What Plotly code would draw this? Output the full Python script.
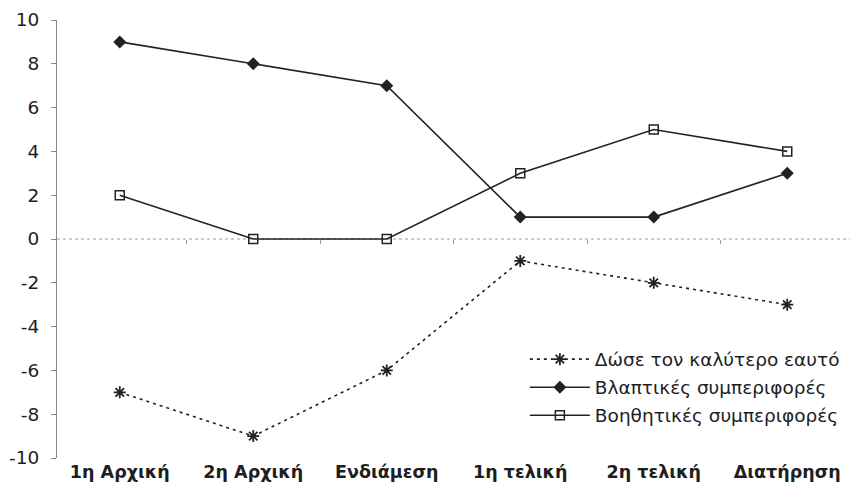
import plotly.graph_objects as go

# Measurement phases and scores
phases = ["1η Αρχική", "2η Αρχική", "Ενδιάμεση", "1η τελική", "2η τελική", "Διατήρηση"]
best_self = [-7, -9, -6, -1, -2, -3]
harmful = [9, 8, 7, 1, 1, 3]
helpful = [2, 0, 0, 3, 5, 4]

y_ticks = [10, 8, 6, 4, 2, 0, -2, -4, -6, -8, -10]
y_labels = ["10", "8", "6", "4", "2", "0", "-2", "-4", "-6", "-8", "-10"]
boundaries = [0.5, 1.5, 2.5, 3.5, 4.5]

ink = "#222222"
x_range = [-0.47, 5.47]
text_font = "DejaVu Sans, Liberation Sans, Arial, sans-serif"

fig = go.Figure()
fig.add_trace(go.Scatter(
    x=phases, y=best_self, name="Δώσε τον καλύτερο εαυτό", legendgroup="a",
    mode="lines+markers",
    line=dict(color=ink, width=1.6, dash="3px,4px"),
    marker=dict(symbol="asterisk-open", size=10, color=ink, line=dict(width=1.8, color=ink)),
))
fig.add_trace(go.Scatter(
    x=phases, y=harmful, name="Βλαπτικές συμπεριφορές", legendgroup="b",
    mode="lines+markers",
    line=dict(color=ink, width=1.6),
    marker=dict(symbol="diamond", size=10, color=ink),
))
fig.add_trace(go.Scatter(
    x=phases, y=helpful, name="Βοηθητικές συμπεριφορές", legendgroup="c",
    mode="lines+markers",
    line=dict(color=ink, width=1.6),
    marker=dict(symbol="square-open", size=9, color=ink, line=dict(width=1.5, color=ink)),
))

# Dotted zero line across the plot
fig.add_shape(type="line", xref="paper", x0=0, x1=1, yref="y", y0=0, y1=0,
              line=dict(color="#9a9a9a", width=1, dash="dot"), layer="below")

fig.update_layout(
    width=850, height=500,
    margin=dict(l=57, r=0, t=20, b=42),
    paper_bgcolor="white", plot_bgcolor="white",
    font=dict(family=text_font, color="#1e1e1e"),
    showlegend=True,
    legend=dict(
        x=0.59, y=0.268, xanchor="left", yanchor="top",
        font=dict(size=18.5, color="#1e1e1e"),
        bgcolor="rgba(0,0,0,0)", traceorder="grouped", tracegroupgap=1, itemwidth=60,
    ),
    xaxis=dict(
        type="category", range=x_range,
        showgrid=False, zeroline=False, showline=False, ticks="",
        tickfont=dict(size=17.5, family=text_font, weight="bold"),
        ticklabelstandoff=1,
    ),
    xaxis2=dict(
        overlaying="x", anchor="free", position=0.5,
        range=x_range, tickvals=boundaries, showticklabels=False,
        ticks="outside", ticklen=4, tickcolor="#9a9a9a",
        showgrid=False, zeroline=False, showline=False,
    ),
    yaxis=dict(
        range=[-10, 10], tickvals=y_ticks, ticktext=y_labels,
        showgrid=False, zeroline=False,
        showline=True, linecolor="#8a8a8a", linewidth=1,
        ticks="outside", ticklen=5, tickcolor="#8a8a8a",
        tickfont=dict(size=18.5), ticklabelstandoff=8,
    ),
)

# Invisible trace so the boundary tick axis is drawn
fig.add_trace(go.Scatter(x=boundaries, y=[0] * len(boundaries), xaxis="x2",
                         mode="markers", marker=dict(opacity=0), showlegend=False,
                         hoverinfo="skip"))

fig.write_html("out.html")
